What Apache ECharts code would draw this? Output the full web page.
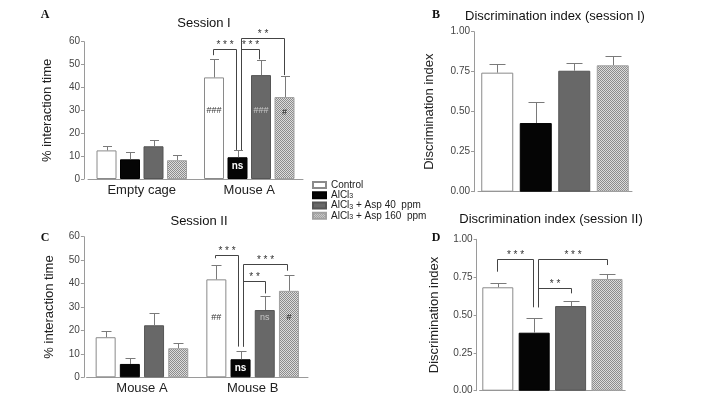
<!DOCTYPE html>
<html><head><meta charset="utf-8">
<script src="https://cdn.jsdelivr.net/npm/echarts@6/dist/echarts.min.js"></script>
<style>html,body{margin:0;padding:0;background:#fff}#c{width:708px;height:401px}</style>
</head><body><div id="c"></div>
<script>
// ---------- data ----------
const groupNames = ['Control','AlCl3','AlCl3 + Asp 40  ppm','AlCl3 + Asp 160  ppm'];
const catsA = ['Empty cage','Mouse A'];
const catsC = ['Mouse A','Mouse B'];
const catsDI = ['Control','AlCl3','Asp 40','Asp 160'];
// per group (Control, AlCl3, +Asp40, +Asp160), per category
const meanA  = [[12.5,44.4],[8.6,9.5],[14.3,45.4],[8.2,35.8]];
const upperA = [[14.5,52.3],[11.9,12.5],[17.0,51.8],[10.6,45.1]];
const meanC  = [[17.1,41.8],[5.7,7.7],[22.2,28.7],[12.4,36.9]];
const upperC = [[19.6,47.9],[8.2,11.3],[27.4,34.7],[14.8,43.8]];
const meanB  = [0.744,0.429,0.756,0.790];
const upperB = [0.796,0.559,0.802,0.848];
const meanD  = [0.683,0.383,0.559,0.738];
const upperD = [0.709,0.478,0.594,0.769];
const marksA = [['','###'],['','ns'],['','###'],['','#']];
const marksC = [['','##'],['','ns'],['','ns'],['','#']];
const pctMax = 60, pctStep = 10;
const diMax = 1, diStep = 0.25;
// brackets: [category, fromBar, toBar, topValue, leftLegEnd, rightLegEnd, stars]
const bracketsA = [[1,0,1,56.6,54.1,12.7,'* * *'],[1,1,3,61.4,12.7,45.4,'* *'],[1,1,2,56.6,12.7,52.3,'* * *']];
const bracketsC = [[1,0,1,52.2,50.8,13.1,'* * *'],[1,1,3,48.4,13.1,45.5,'* * *'],[1,1,2,41.2,13.1,35.8,'* *']];
const bracketsD = [[0,0,1,0.868,0.786,0.551,'* * *'],[0,1,3,0.868,0.551,0.830,'* * *'],[0,1,2,0.676,0.551,0.643,'* *']];

// ---------- layout / style ----------
const legNudgeA = [[-1,-2],[3,-1],[3,-2]];
const legNudgeC = [[-1,-3],[2,-2],[2,0]];
const legNudgeD = [[-1,-1],[4,0],[4,0]];
const markLevelA = [30, 5.4, 30, 29];     // label height per group
const markLevelC = [25.6, 3.8, 25.6, 25.6];
const markColor = ['#333', '#fff', '#c8c8c8', '#222'];
const FONT = 'Liberation Sans, Arial, sans-serif';

function makePattern(){
  const c = document.createElement('canvas'); c.width = 2; c.height = 2;
  const g = c.getContext('2d');
  g.fillStyle = '#dcdcdc'; g.fillRect(0,0,2,2);
  g.fillStyle = '#8c8c8c'; g.fillRect(0,0,1,1); g.fillRect(1,1,1,1);
  return c;
}
const pattern = {image: makePattern(), repeat: 'repeat'};
const groupStyles = [
  {color:'#ffffff', borderColor:'#8a8a8a', borderWidth:1},
  {color:'#050505', borderColor:'#000', borderWidth:1},
  {color:'#686868', borderColor:'#555', borderWidth:1},
  {color: pattern, borderColor:'#a0a0a0', borderWidth:1}
];

const BW_A = 20, GAP_A = 0.175;
const BW_C = 20, GAP_C = 0.21;
const BW_B = 32, BW_D = 31;

function groupedX(api, cat, k, bw, gap){
  return api.coord([cat, 0])[0] + (k - 1.5) * bw * (1 + gap);
}

function errSeries(xi, means, uppers, xFn, capW, grouped){
  const data = [];
  if (grouped) {
    means.forEach((arr,k)=>arr.forEach((m,c)=>data.push([c, uppers[k][c], k, m])));
  } else {
    means.forEach((m,k)=>data.push([k, uppers[k], k, m]));
  }
  return {
    type:'custom', xAxisIndex:xi, yAxisIndex:xi, silent:true, z:3,
    data, encode:{x:0, y:1},
    renderItem(params, api){
      const cat = api.value(0), k = api.value(2);
      const x = Math.round(xFn(api, cat, k)) + 0.5;
      const yT = Math.round(api.coord([cat, api.value(1)])[1]) + 0.5;
      const yB = api.coord([cat, api.value(3)])[1];
      return {type:'group', children:[
        {type:'line', shape:{x1:x,y1:yB,x2:x,y2:yT}, style:{stroke:'#7a7a7a', lineWidth:1}},
        {type:'line', shape:{x1:x-capW/2,y1:yT,x2:x+capW/2,y2:yT}, style:{stroke:'#7a7a7a', lineWidth:1}}
      ]};
    }
  };
}

function bracketSeries(xi, brackets, nudges, xFn){
  return {
    type:'custom', xAxisIndex:xi, yAxisIndex:xi, silent:true, z:4, clip:false,
    data: brackets.map(b=>[b[0], b[3]]), encode:{x:0, y:1},
    renderItem(params, api){
      const b = brackets[params.dataIndex], n = nudges[params.dataIndex];
      const xL = Math.round(xFn(api, b[0], b[1]) + n[0]) + 0.5;
      const xR = Math.round(xFn(api, b[0], b[2]) + n[1]) + 0.5;
      const yT = Math.round(api.coord([b[0], b[3]])[1]) + 0.5;
      const yL = api.coord([b[0], b[4]])[1];
      const yR = api.coord([b[0], b[5]])[1];
      return {type:'group', children:[
        {type:'polyline', shape:{points:[[xL,yL],[xL,yT],[xR,yT],[xR,yR]]}, style:{stroke:'#444', lineWidth:1, fill:null}},
        {type:'text', x:(xL+xR)/2, y:yT-4, style:{text:b[6], fontSize:10, fontFamily:FONT, fill:'#333', align:'center', verticalAlign:'middle'}}
      ]};
    }
  };
}

function markSeries(xi, marks, levels, xFn){
  const data = [];
  marks.forEach((arr,k)=>arr.forEach((t,c)=>{ if(t) data.push([c, levels[k], k, t]); }));
  return {
    type:'custom', xAxisIndex:xi, yAxisIndex:xi, silent:true, z:5,
    data, encode:{x:0, y:1},
    renderItem(params, api){
      const d = data[params.dataIndex];
      const x = xFn(api, d[0], d[2]);
      const y = api.coord([d[0], d[1]])[1];
      const onBlack = d[2] === 1;
      return {type:'text', x, y, style:{text:d[3], fontSize: onBlack ? 10 : 9, fontWeight: onBlack ? 'bold' : 'normal',
        fontFamily:FONT, fill: markColor[d[2]], align:'center', verticalAlign:'middle'}};
    }
  };
}

const xA = (api,c,k)=>groupedX(api,c,k,BW_A,GAP_A);
const xC = (api,c,k)=>groupedX(api,c,k,BW_C,GAP_C);
const xDI = (api,c,k)=>api.coord([k,0])[0];

const axisLineStyle = {lineStyle:{color:'#9a9a9a', width:1}};
function yAxisPct(gi, offset, nameGap){
  return {type:'value', gridIndex:gi, min:0, max:pctMax, interval:pctStep, offset,
    name:'% interaction time', nameLocation:'middle', nameGap, nameRotate:90,
    nameTextStyle:{fontSize:13, color:'#222', fontFamily:FONT},
    axisLine:{show:true, ...axisLineStyle}, axisTick:{show:true, length:3, lineStyle:{color:'#9a9a9a'}},
    axisLabel:{fontSize:10, color:'#444', margin:4, fontFamily:FONT}, splitLine:{show:false}};
}
function yAxisDI(gi, offset, nameGap){
  return {type:'value', gridIndex:gi, min:0, max:diMax, interval:diStep, offset,
    name:'Discrimination index', nameLocation:'middle', nameGap, nameRotate:90,
    nameTextStyle:{fontSize:13, color:'#222', fontFamily:FONT},
    axisLine:{show:true, ...axisLineStyle}, axisTick:{show:true, length:3, lineStyle:{color:'#9a9a9a'}},
    axisLabel:{fontSize:10, color:'#444', margin:4, fontFamily:FONT, formatter:v=>v.toFixed(2)}, splitLine:{show:false}};
}
function xCat(gi, cats, showLabel){
  return {type:'category', gridIndex:gi, data:cats, axisLine:{show:true, ...axisLineStyle}, axisTick:{show:false},
    axisLabel:{show:showLabel, fontSize:13, color:'#222', margin:5, fontFamily:FONT}};
}

const series = [];
groupNames.forEach((n,k)=>series.push({type:'bar', name:n, xAxisIndex:0, yAxisIndex:0, data:meanA[k],
  barWidth:BW_A, barGap:(GAP_A*100)+'%', itemStyle:groupStyles[k], animation:false}));
groupNames.forEach((n,k)=>series.push({type:'bar', name:n, xAxisIndex:2, yAxisIndex:2, data:meanC[k],
  barWidth:BW_C, barGap:(GAP_C*100)+'%', itemStyle:groupStyles[k], animation:false}));
series.push({type:'bar', name:'DI session I', xAxisIndex:1, yAxisIndex:1, barWidth:BW_B,
  data: meanB.map((v,i)=>({value:v, itemStyle:groupStyles[i]}))});
series.push({type:'bar', name:'DI session II', xAxisIndex:3, yAxisIndex:3, barWidth:BW_D,
  data: meanD.map((v,i)=>({value:v, itemStyle:groupStyles[i]}))});
series.push(errSeries(0, meanA, upperA, xA, 9, true));
series.push(errSeries(2, meanC, upperC, xC, 10, true));
series.push(errSeries(1, meanB, upperB, xDI, 16, false));
series.push(errSeries(3, meanD, upperD, xDI, 16, false));
series.push(bracketSeries(0, bracketsA, legNudgeA, xA));
series.push(bracketSeries(2, bracketsC, legNudgeC, xC));
series.push(bracketSeries(3, bracketsD, legNudgeD, xDI));
series.push(markSeries(0, marksA, markLevelA, xA));
series.push(markSeries(2, marksC, markLevelC, xC));

function ttl(text, x, y, size, bold, serif){
  return {text, left:x, top:y, textAlign:'center', padding:0,
    textStyle:{fontSize:size, fontWeight: bold ? 'bold':'normal', color:'#111',
      fontFamily: serif ? 'Liberation Serif, DejaVu Serif, serif' : FONT}};
}

const option = {
  animation:false,
  backgroundColor:'#fff',
  title:[
    ttl('Session I', 204, 17, 13, false, false),
    ttl('Session II', 199, 215, 13, false, false),
    ttl('Discrimination index (session I)', 555, 10, 13, false, false),
    ttl('Discrimination index (session II)', 551, 213, 13, false, false),
    ttl('A', 45, 9, 12, true, true),
    ttl('B', 436, 9, 12, true, true),
    ttl('C', 45, 232, 12, true, true),
    ttl('D', 436, 232, 12, true, true)
  ],
  legend:{data:groupNames, orient:'vertical', left:312, top:180, itemWidth:13, itemHeight:6, itemGap:0, padding:0,
    icon:'rect', selectedMode:false,
    formatter:n=>n.replace('AlCl3','AlCl{sub|3}'),
    textStyle:{fontSize:10, color:'#222', fontFamily:FONT, lineHeight:9.5,
      rich:{sub:{fontSize:7, fontFamily:FONT, color:'#222', verticalAlign:'bottom', lineHeight:9.5, padding:[3,0,0,0]}}}},
  grid:[
    {left:88, top:41.7, width:215, height:137.3, outerBoundsMode:'none'},
    {left:478, top:31.7, width:154, height:160, outerBoundsMode:'none'},
    {left:86.6, top:236.7, width:221.4, height:140.6, outerBoundsMode:'none'},
    {left:479.6, top:239.3, width:145.6, height:151.4, outerBoundsMode:'none'}
  ],
  xAxis:[xCat(0,catsA,true), xCat(1,catsDI,false), xCat(2,catsC,true), xCat(3,catsDI,false)],
  yAxis:[yAxisPct(0,4,30), yAxisDI(1,4,38), yAxisPct(2,2.7,28), yAxisDI(3,3,36)],
  series
};
const chart = echarts.init(document.getElementById('c'), null, {renderer:'canvas'});
chart.setOption(option);
</script></body></html>
